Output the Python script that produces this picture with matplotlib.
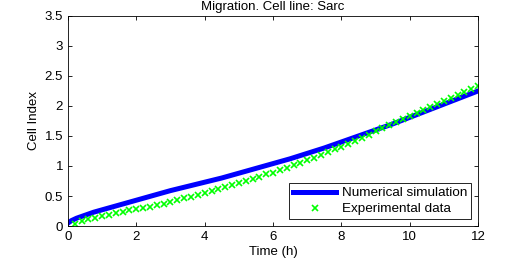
import matplotlib
matplotlib.use("Agg")
import matplotlib.pyplot as plt

plt.rcParams['font.family'] = ['Liberation Sans', 'DejaVu Sans']

# numerical simulation
t_sim = [0, 0.1, 0.25, 0.5, 0.75, 1, 1.5, 2, 2.5, 3, 3.5, 4, 4.5, 5, 5.5, 6,
         6.5, 7, 7.5, 8, 8.5, 9, 9.5, 10, 10.5, 11, 11.5, 12]
ci_sim = [0.05, 0.09, 0.13, 0.18, 0.23, 0.27, 0.35, 0.43, 0.51, 0.59, 0.66, 0.73,
          0.80, 0.88, 0.96, 1.04, 1.12, 1.21, 1.30, 1.40, 1.50, 1.60, 1.70, 1.81,
          1.92, 2.03, 2.14, 2.25]

# experimental data, every 0.2 h
t_exp = [0.2, 0.4, 0.6, 0.8, 1.0, 1.2, 1.4, 1.6, 1.8, 2.0,
         2.2, 2.4, 2.6, 2.8, 3.0, 3.2, 3.4, 3.6, 3.8, 4.0,
         4.2, 4.4, 4.6, 4.8, 5.0, 5.2, 5.4, 5.6, 5.8, 6.0,
         6.2, 6.4, 6.6, 6.8, 7.0, 7.2, 7.4, 7.6, 7.8, 8.0,
         8.2, 8.4, 8.6, 8.8, 9.0, 9.2, 9.4, 9.6, 9.8, 10.0,
         10.2, 10.4, 10.6, 10.8, 11.0, 11.2, 11.4, 11.6, 11.8, 12.0]
ci_exp = [0.04, 0.08, 0.11, 0.14, 0.17, 0.19, 0.21, 0.23, 0.26, 0.28,
          0.30, 0.32, 0.35, 0.37, 0.40, 0.43, 0.46, 0.49, 0.52, 0.55,
          0.58, 0.62, 0.65, 0.69, 0.72, 0.75, 0.79, 0.82, 0.86, 0.89,
          0.93, 0.97, 1.01, 1.05, 1.10, 1.14, 1.19, 1.23, 1.28, 1.32,
          1.36, 1.41, 1.46, 1.52, 1.58, 1.63, 1.68, 1.73, 1.79, 1.84,
          1.89, 1.94, 1.99, 2.04, 2.09, 2.14, 2.18, 2.23, 2.28, 2.33]

fig = plt.figure(figsize=(5.23, 2.61), dpi=100)
ax = fig.add_axes([0.130, 0.134, 0.784, 0.805])

ax.plot(t_sim, ci_sim, color='#0000ff', lw=3.6, label='Numerical simulation')
ax.plot(t_exp, ci_exp, 'x', color='#00ff00', ms=5, mew=1.2, label='Experimental data')

ax.set_xlim(0, 12)
ax.set_ylim(0, 3.5)
ax.set_xticks(range(0, 13, 2))
ax.set_yticks([0, 0.5, 1, 1.5, 2, 2.5, 3, 3.5])
ax.set_yticklabels(['0', '0.5', '1', '1.5', '2', '2.5', '3', '3.5'])
ax.tick_params(direction='in', top=True, right=True, labelsize=9.5, length=3, width=0.6)
for s in ax.spines.values():
    s.set_linewidth(0.6)

ax.set_xlabel('Time (h)', fontsize=9.5, labelpad=2)
ax.set_ylabel('Cell Index', fontsize=9.5, labelpad=3)
ax.set_title('Migration. Cell line: Sarc', fontsize=9.5, pad=4)

leg = ax.legend(loc='lower right', fontsize=9.7, fancybox=False, framealpha=1,
                edgecolor='black', borderpad=0.3, labelspacing=0.25,
                handlelength=3.2, handletextpad=0.4, borderaxespad=0.5)
leg.get_frame().set_linewidth(0.6)

fig.savefig('out.png', dpi=100)
